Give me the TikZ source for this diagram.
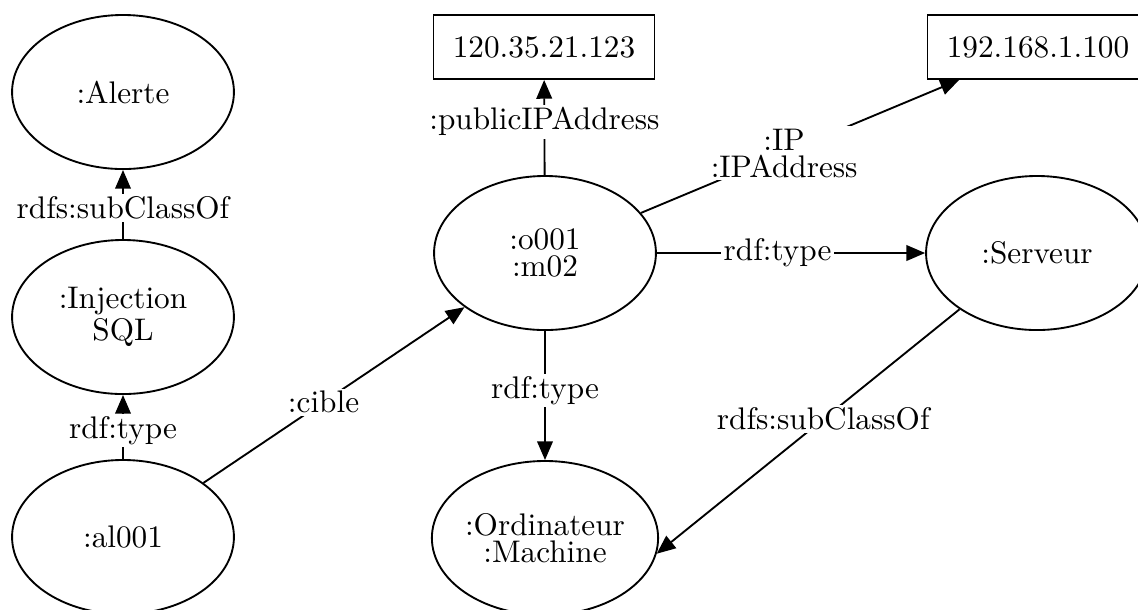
\documentclass[tikz,border=0pt]{standalone}
\usetikzlibrary{arrows.meta,shapes.geometric}
\begin{document}
\begin{tikzpicture}[x=0.32pt,y=-0.32pt,
  every node/.style={font=\fontsize{10}{8.6}\selectfont},
  concept/.style={draw, ellipse, line width=0.6pt, minimum width=71pt,
    minimum height=49.3pt, inner sep=0pt, align=center},
  literal/.style={draw, rectangle, line width=0.6pt, minimum width=70.7pt,
    minimum height=20.5pt, inner sep=0pt},
  rel/.style={line width=0.6pt, -{Triangle[length=6pt,width=5pt]}},
  lbl/.style={fill=white, inner sep=0.8pt, align=center}]
  \clip (0,0) rectangle (1138,609);

  % classes and individuals
  \node[concept] (alerte) at (123,92)  {:Alerte};
  \node[concept] (inj)    at (123,317) {:Injection\\SQL};
  \node[concept] (al)     at (123,537) {:al001};
  \node[concept] (o)      at (545,253) {:o001\\:m02};
  \node[concept] (ord)    at (545,538) {:Ordinateur\\:Machine};
  \node[concept] (serv)   at (1037,253) {:Serveur};

  % literal values
  \node[literal] (ip1) at (544,47)  {120.35.21.123};
  \node[literal] (ip2) at (1038,47) {192.168.1.100};

  % properties
  \draw[rel] (inj) -- node[lbl,pos=0.45] {rdfs:subClassOf} (alerte);
  \draw[rel] (al) -- node[lbl,pos=0.45] {rdf:type} (inj);
  \draw[rel] (al) -- node[lbl,pos=0.46] {:cible} (o);
  \draw[rel] (o) -- node[lbl,pos=0.56] {:publicIPAddress} (ip1);
  \draw[rel] (o) -- node[lbl,pos=0.45] {:IP\\:IPAddress} (ip2);
  \draw[rel] (o) -- node[lbl,pos=0.45] {rdf:type} (serv);
  \draw[rel] (o) -- node[lbl,pos=0.46] {rdf:type} (ord);
  \draw[rel] (serv.216) -- node[lbl,pos=0.45] {rdfs:subClassOf} (ord.-8);
\end{tikzpicture}
\end{document}
